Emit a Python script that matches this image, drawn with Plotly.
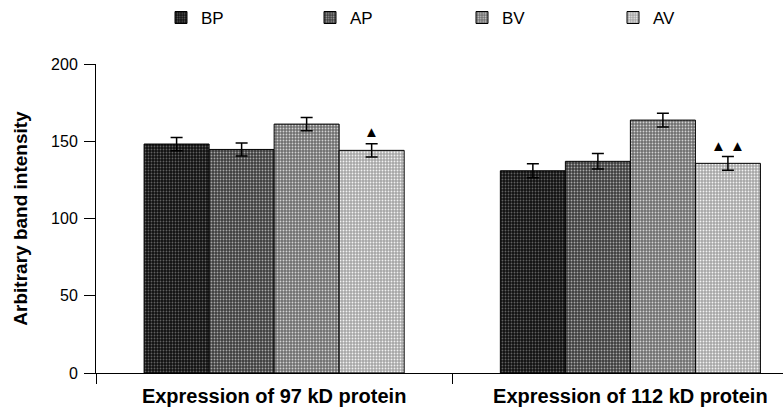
import plotly.graph_objects as go

categories = ["Expression of 97 kD protein", "Expression of 112 kD protein"]
series_names = ["BP", "AP", "BV", "AV"]
values = {
    "BP": [148.2, 130.9],
    "AP": [144.7, 137.0],
    "BV": [161.1, 163.7],
    "AV": [144.1, 135.7],
}
errors = {
    "BP": [4.3, 4.6],
    "AP": [4.2, 5.0],
    "BV": [4.3, 4.4],
    "AV": [4.3, 4.5],
}
sig_marks = ["▲", "▲ ▲"]
sig_y = [156.6, 147.5]
y_ticks = [0, 50, 100, 150, 200]

bg_colors = {"BP": "#101010", "AP": "#3c3c3c", "BV": "#6e6e6e", "AV": "#a6a6a6"}
fg_colors = {"BP": "#606060", "AP": "#a8a8a8", "BV": "#d2d2d2", "AV": "#f2f2f2"}

PLOT_L, PLOT_W = 96, 687
legend_text_px = [201, 350, 502, 653]

fig = go.Figure()
for k, name in enumerate(series_names):
    lg = "legend" if k == 0 else "legend%d" % (k + 1)
    fig.add_trace(go.Bar(
        name=name,
        x=categories,
        y=values[name],
        legend=lg,
        marker=dict(
            color=bg_colors[name],
            line=dict(color="black", width=1),
            pattern=dict(shape=".", size=3, solidity=0.3,
                         fgcolor=fg_colors[name], bgcolor=bg_colors[name],
                         fillmode="replace"),
        ),
        error_y=dict(type="data", array=errors[name], color="black",
                     thickness=1.5, width=6),
    ))

n = len(series_names)
bargap = 0.27
bar_w = (1 - bargap) / n
av_offset = (n - 1) / 2 * bar_w
for i, (txt, yv) in enumerate(zip(sig_marks, sig_y)):
    fig.add_annotation(x=i + av_offset, y=yv, text=txt, showarrow=False,
                       font=dict(size=15, color="black"), xref="x", yref="y")

legends = {}
for k, px in enumerate(legend_text_px):
    key = "legend" if k == 0 else "legend%d" % (k + 1)
    legends[key] = dict(
        orientation="h", x=(px - 40 - PLOT_L) / PLOT_W, xanchor="left",
        y=1.149, yanchor="middle", font=dict(size=17),
        bgcolor="rgba(0,0,0,0)", itemclick=False, itemdoubleclick=False,
    )

fig.update_layout(
    width=783, height=408,
    margin=dict(l=96, r=0, t=64, b=35, autoexpand=False),
    paper_bgcolor="white", plot_bgcolor="white",
    font=dict(family="Liberation Sans, Arial, sans-serif", color="black"),
    barmode="group", bargap=bargap, bargroupgap=0,
    showlegend=True,
    xaxis=dict(
        type="category", range=[-0.5, 1.4284], showline=True, linecolor="black",
        linewidth=1, ticks="outside", ticklen=10, tickcolor="black",
        tickson="boundaries", showgrid=False, automargin=False,
        tickvals=categories, ticktext=["<b>%s</b>" % c for c in categories],
        tickfont=dict(size=20), ticklabelstandoff=5,
    ),
    yaxis=dict(
        range=[0, 200], tickvals=y_ticks, showline=True,
        linecolor="black", linewidth=1, ticks="outside", ticklen=11,
        tickcolor="black", showgrid=False, zeroline=False, automargin=False,
        tickfont=dict(size=16), ticklabelstandoff=3,
        title=dict(text="<b>Arbitrary band intensity</b>", font=dict(size=19),
                   standoff=18),
    ),
    **legends,
)

fig.write_html("out.html",
               config={"displayModeBar": False, "staticPlot": True},
               post_script="document.body.style.margin='0';document.body.style.padding='0';")
